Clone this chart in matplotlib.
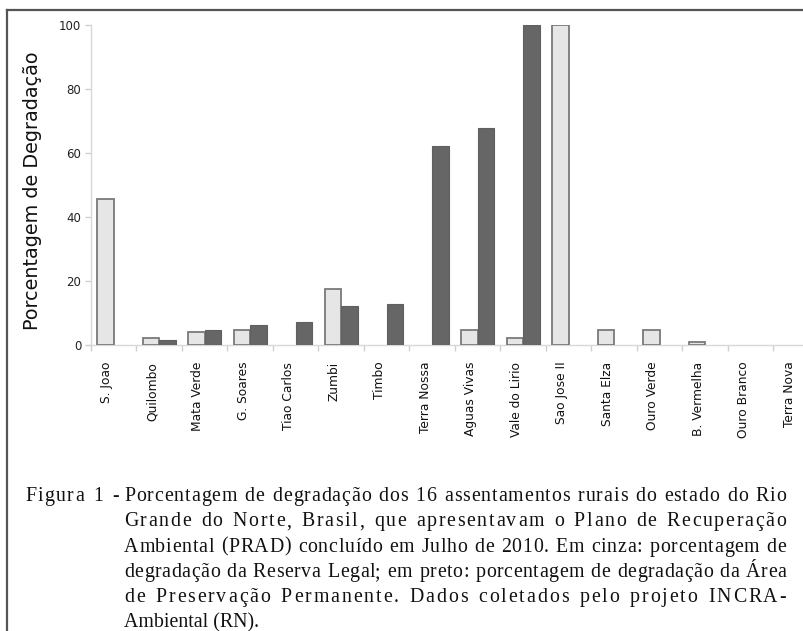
import matplotlib
matplotlib.use("Agg")
import matplotlib.pyplot as plt
import matplotlib.transforms as mtransforms
from matplotlib.lines import Line2D
from matplotlib.font_manager import FontProperties, findfont, get_font
from matplotlib.ft2font import LoadFlags
import numpy as np

# settlements and % degradation
settlements = ["S. Joao", "Quilombo", "Mata Verde", "G. Soares", "Tiao Carlos",
               "Zumbi", "Timbo", "Terra Nossa", "Aguas Vivas", "Vale do Lirio",
               "Sao Jose II", "Santa Elza", "Ouro Verde", "B. Vermelha",
               "Ouro Branco", "Terra Nova"]
reserva_legal = [45.5, 2.1, 4.0, 4.6, 0, 17.5, 0, 0, 4.6, 2.1,
                 100, 4.6, 4.6, 1.0, 0, 0]
app = [0, 1.5, 4.7, 6.2, 7.3, 12.3, 12.8, 62.2, 67.7, 100,
       0, 0, 0, 0, 0, 0]
yticks = [0, 20, 40, 60, 80, 100]

caption_first = "Figura 1 -"
caption_lines = [
    "Porcentagem de degradação dos 16 assentamentos rurais do estado do Rio",
    "Grande do Norte, Brasil, que apresentavam o Plano de Recuperação",
    "Ambiental (PRAD) concluído em Julho de 2010. Em cinza: porcentagem de",
    "degradação da Reserva Legal; em preto: porcentagem de degradação da Área",
    "de Preservação Permanente.  Dados coletados pelo projeto INCRA-",
    "Ambiental (RN).",
]

W, H = 804, 631
fig = plt.figure(figsize=(W / 100, H / 100), dpi=100)

# axes placed in pixel terms (right side runs past the page edge, as in the scan)
ax_left, ax_top, ax_bottom, cat_w = 91, 25, 345, 45.5
n = len(settlements)
ax = fig.add_axes([ax_left / W, (H - ax_bottom) / H,
                   n * cat_w / W, (ax_bottom - ax_top) / H])

x = np.arange(n)
bw = 0.36
lw_rl = [1.3 if v > 0 else 0 for v in reserva_legal]
lw_app = [0.8 if v > 0 else 0 for v in app]
ax.bar(x - bw / 2, reserva_legal, bw, color="#e6e6e6", edgecolor="#7a7a7a",
       linewidth=lw_rl, zorder=3)
ax.bar(x + bw / 2, app, bw, color="#666666", edgecolor="#606060",
       linewidth=lw_app, zorder=3)

ax.set_xlim(-0.5, n - 0.5)
ax.set_ylim(0, 100)
ax.set_yticks(yticks)
ax.tick_params(axis="y", labelsize=8.5, labelcolor="#222222", color="#d0d0d0",
               length=4, width=1, pad=3)

ax.set_xticks(x)
ax.set_xticklabels(settlements, rotation=90, fontsize=8.8, color="#111111")
ax.set_xticks(np.arange(n + 1) - 0.5, minor=True)
ax.tick_params(axis="x", which="major", length=0, pad=12)
ax.tick_params(axis="x", which="minor", length=4, color="#d0d0d0", width=1)
offset = mtransforms.ScaledTranslation(-7 / 100, 0, fig.dpi_scale_trans)
for lab in ax.get_xticklabels():
    lab.set_transform(lab.get_transform() + offset)

for side in ["top", "right"]:
    ax.spines[side].set_visible(False)
for side in ["left", "bottom"]:
    ax.spines[side].set_color("#d8d8d8")
    ax.spines[side].set_linewidth(1)

fig.text(33 / W, 1 - 191 / H, "Porcentagem de Degradação", rotation=90,
         ha="center", va="center", fontsize=13.8, color="#111111")

# page border (left and top only visible)
fig.add_artist(Line2D([7 / W, 7 / W], [0, 1 - 10 / H], color="#555555",
                      linewidth=1.6, transform=fig.transFigure))
fig.add_artist(Line2D([7 / W, 1], [1 - 10 / H, 1 - 10 / H], color="#555555",
                      linewidth=1.6, transform=fig.transFigure))

# caption, justified the way the scanned page is (letter + word spacing)
cap_size = 14.3
cap_font = dict(family="Liberation Serif", fontsize=cap_size, color="#111111",
                va="baseline", ha="left")
ftfont = get_font(findfont(FontProperties(family="Liberation Serif")))
ftfont.set_size(cap_size, 100)


def advance(ch):
    g = ftfont.load_char(ord(ch), flags=LoadFlags.NO_HINTING)
    return g.linearHoriAdvance / 65536


space_w = advance(" ")


def justify(line, yb, left, right, word_weight=3.0):
    words = line.split()
    char_total = sum(advance(c) for w in words for c in w)
    letter_gaps = sum(len(w) - 1 for w in words)
    word_gaps = len(words) - 1
    extra = right - left - char_total - word_gaps * space_w
    unit = extra / (letter_gaps + word_weight * word_gaps)
    xpos = left
    for w in words:
        for k, c in enumerate(w):
            fig.text(xpos / W, yb, c, **cap_font)
            xpos += advance(c)
            if k < len(w) - 1:
                xpos += unit
        xpos += space_w + word_weight * unit


base0, dy = 501, 25.3
text_left, text_right = 124, 786

justify(caption_first, 1 - base0 / H, 25, 119)
for i, line in enumerate(caption_lines):
    yb = 1 - (base0 + i * dy) / H
    if i == len(caption_lines) - 1:
        fig.text(text_left / W, yb, line, **cap_font)
    else:
        justify(line, yb, text_left, text_right)

fig.savefig("out.png", dpi=100)
